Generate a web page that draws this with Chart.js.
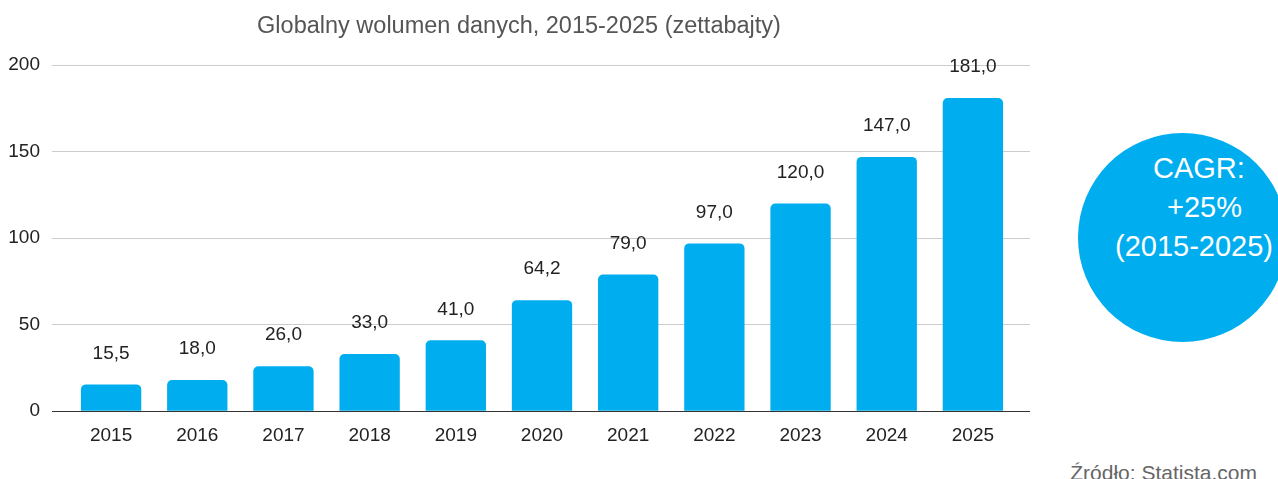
<!DOCTYPE html>
<html lang="pl">
<head>
    <meta charset="UTF-8">
    <title>Globalny wolumen danych</title>
    <script src="https://cdn.jsdelivr.net/npm/chart.js"></script>
    <style>
        body {
            margin: 0;
            background: #ffffff;
            font-family: "Liberation Sans", Arial, sans-serif;
            overflow: hidden;
        }
        .page {
            position: relative;
            width: 1278px;
            height: 479px;
            overflow: hidden;
        }
        .chart-box {
            position: absolute;
            left: 0;
            top: 0;
            width: 1040px;
            height: 479px;
        }
        .circle {
            position: absolute;
            left: 1078px;
            top: 133px;
            width: 209px;
            height: 209px;
            border-radius: 50%;
            background: #00aeef;
        }
        .cagr {
            position: absolute;
            color: #ffffff;
            font-size: 29px;
            line-height: 29px;
            white-space: nowrap;
        }
        .source {
            position: absolute;
            right: 21px;
            top: 462px;
            font-size: 21px;
            line-height: 21px;
            color: #666666;
            white-space: nowrap;
        }
    </style>
</head>
<body>
    <div class="page">
        <div class="chart-box"><canvas id="chart"></canvas></div>
        <div class="circle"></div>
        <div class="cagr" style="left:1153px; top:154px;">CAGR:</div>
        <div class="cagr" style="left:1167px; top:193px;">+25%</div>
        <div class="cagr" style="left:1115px; top:232px;">(2015-2025)</div>
        <div class="source">Źródło: Statista.com</div>
    </div>

    <script>
        // Daten
        const years = ['2015', '2016', '2017', '2018', '2019', '2020', '2021', '2022', '2023', '2024', '2025'];
        const volume = [15.5, 18.0, 26.0, 33.0, 41.0, 64.2, 79.0, 97.0, 120.0, 147.0, 181.0];
        const yTicks = [0, 50, 100, 150, 200];

        const BAR_COLOR = '#00aeef';
        const GRID_COLOR = '#cccccc';
        const ZERO_COLOR = '#333333';

        Chart.defaults.font.family = '"Liberation Sans", Arial, sans-serif';

        const gridColor = ctx => (ctx.tick && ctx.tick.value === 0 ? ZERO_COLOR : GRID_COLOR);

        // Werte über den Balken
        const valueLabels = {
            id: 'valueLabels',
            afterDatasetsDraw(chart) {
                const ctx = chart.ctx;
                const meta = chart.getDatasetMeta(0);
                ctx.save();
                ctx.font = '19px "Liberation Sans", Arial, sans-serif';
                ctx.fillStyle = '#222222';
                ctx.textAlign = 'center';
                ctx.textBaseline = 'middle';
                meta.data.forEach((bar, i) => {
                    const txt = volume[i].toFixed(1).replace('.', ',');
                    ctx.fillText(txt, bar.x, bar.y - 31);
                });
                ctx.restore();
            }
        };

        new Chart(document.getElementById('chart'), {
            type: 'bar',
            data: {
                labels: years,
                datasets: [{
                    data: volume,
                    backgroundColor: BAR_COLOR,
                    borderRadius: 5,
                    borderSkipped: 'start',
                    barPercentage: 0.7,
                    categoryPercentage: 1.0
                }]
            },
            options: {
                responsive: true,
                maintainAspectRatio: false,
                animation: false,
                layout: {
                    padding: { left: 8, right: 10, top: 0, bottom: 19 }
                },
                plugins: {
                    legend: { display: false },
                    tooltip: { enabled: false },
                    title: {
                        display: true,
                        text: 'Globalny wolumen danych, 2015-2025 (zettabajty)',
                        color: '#555555',
                        font: { size: 23.5, weight: 'normal' },
                        padding: { top: 12, bottom: 25 }
                    }
                },
                scales: {
                    x: {
                        grid: { display: false, drawTicks: false },
                        border: { display: false },
                        ticks: {
                            color: '#222222',
                            font: { size: 19 },
                            padding: 13
                        }
                    },
                    y: {
                        min: yTicks[0],
                        max: yTicks[yTicks.length - 1],
                        afterBuildTicks: axis => { axis.ticks = yTicks.map(v => ({ value: v })); },
                        afterFit: axis => { axis.width = 60; },
                        border: { display: false },
                        grid: {
                            color: gridColor,
                            lineWidth: 1,
                            tickLength: 16
                        },
                        ticks: {
                            color: '#222222',
                            font: { size: 19 },
                            padding: 12
                        }
                    },
                    y2: {
                        position: 'right',
                        min: yTicks[0],
                        max: yTicks[yTicks.length - 1],
                        afterBuildTicks: axis => { axis.ticks = yTicks.map(v => ({ value: v })); },
                        border: { display: false },
                        grid: {
                            color: gridColor,
                            lineWidth: 1,
                            drawOnChartArea: false,
                            tickLength: 14
                        },
                        ticks: { display: false }
                    }
                }
            },
            plugins: [valueLabels]
        });
    </script>
</body>
</html>
